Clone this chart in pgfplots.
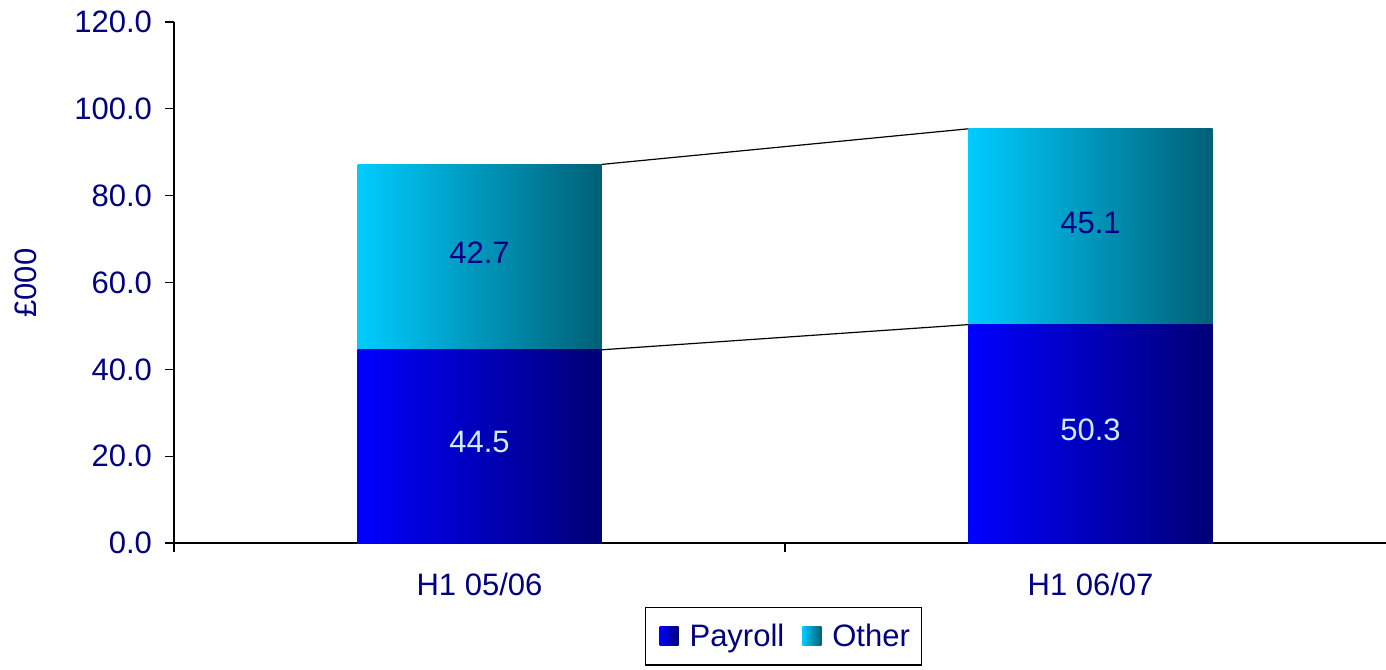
\documentclass[border=0pt]{standalone}
\usepackage{pgfplots}
\pgfplotsset{compat=1.18}
\usepackage{fontspec}
\setmainfont{Liberation Sans}
\definecolor{navytxt}{RGB}{0,0,128}
\definecolor{payL}{RGB}{0,0,255}
\definecolor{payR}{RGB}{0,0,118}
\definecolor{othL}{RGB}{0,204,255}
\definecolor{othR}{RGB}{0,96,118}
\definecolor{lightlbl}{RGB}{204,236,255}
\newcommand{\fs}{\fontsize{15.5}{18}\selectfont}
\begin{document}
\begin{tikzpicture}
\useasboundingbox (-87pt,-63pt) rectangle (606pt,271.5pt);
\clip (-87pt,-63pt) rectangle (606pt,271.5pt);
\begin{axis}[
  scale only axis,
  width=606pt, height=260.5pt,
  xmin=-0.5, xmax=1.4836,
  ymin=0, ymax=120,
  ybar,
  bar width=122pt,
  axis x line*=bottom,
  axis y line*=left,
  axis line style={black, line width=0.6pt, -},
  xtick={0,1},
  xticklabels={H1 05/06, H1 06/07},
  minor xtick={-0.5,0.5},
  ytick={0,20,...,120},
  tick align=outside,
  major tick length=4.5pt,
  minor tick length=4.5pt,
  x tick style={draw=none},
  minor x tick style={draw=black, line width=0.6pt},
  y tick style={black, line width=0.6pt},
  tick label style={font=\fs, text=navytxt},
  /pgf/number format/assume math mode=true,
  y tick label style={/pgf/number format/fixed, /pgf/number format/fixed zerofill, /pgf/number format/precision=1, xshift=-3pt},
  x tick label style={yshift=-7pt},
  ylabel={£000},
  every axis y label/.style={at={(axis description cs:-0.1221,0.499)}, rotate=90, anchor=center, font=\fs, text=navytxt},
  legend style={at={(0.3886,-0.1228)}, anchor=north west, legend columns=2,
    draw=black, line width=0.6pt, font=\fs, text=navytxt, inner xsep=4pt, inner ysep=6pt,
    /tikz/every even column/.append style={column sep=4pt}},
  legend image code/.code={\path (0pt,0pt); \path[#1,draw=none] (3pt,-4.75pt) rectangle (12.5pt,4.75pt); \path (16pt,0pt);},
]
% Other segment drawn as full stack (Payroll + Other), Payroll drawn over it
\addplot[draw=none, bar shift=0pt, left color=othL, right color=othR, forget plot] coordinates {(0,87.2)};
\addplot[draw=none, bar shift=0pt, left color=othL, right color=othR, forget plot] coordinates {(1,95.4)};
\addplot[draw=none, bar shift=0pt, left color=payL, right color=payR] coordinates {(0,44.5)};
\addlegendentry{Payroll\rule[-9pt]{0pt}{1pt}}
\addplot[draw=none, bar shift=0pt, left color=payL, right color=payR, forget plot] coordinates {(1,50.3)};
\addlegendimage{draw=none, left color=othL, right color=othR}
\addlegendentry{Other\hspace{8pt}}
\end{axis}
\begin{axis}[
  scale only axis,
  width=606pt, height=260.5pt,
  xmin=-0.5, xmax=1.4836,
  ymin=0, ymax=120,
  hide axis,
  clip=false,
]
\addplot[black, line width=0.6pt] coordinates {(0.2,44.5) (0.8,50.3)};
\addplot[black, line width=0.6pt] coordinates {(0.2,87.2) (0.8,95.4)};
\addplot[draw=none, mark=none, nodes near coords, point meta=explicit symbolic,
  every node near coord/.style={anchor=center, yshift=2pt, font=\fs, text=lightlbl}]
  coordinates {(0,22.25) [44.5] (1,25.15) [50.3]};
\addplot[draw=none, mark=none, nodes near coords, point meta=explicit symbolic,
  every node near coord/.style={anchor=center, yshift=2pt, font=\fs, text=navytxt}]
  coordinates {(0,65.85) [42.7] (1,72.85) [45.1]};
\end{axis}
\end{tikzpicture}
\end{document}
